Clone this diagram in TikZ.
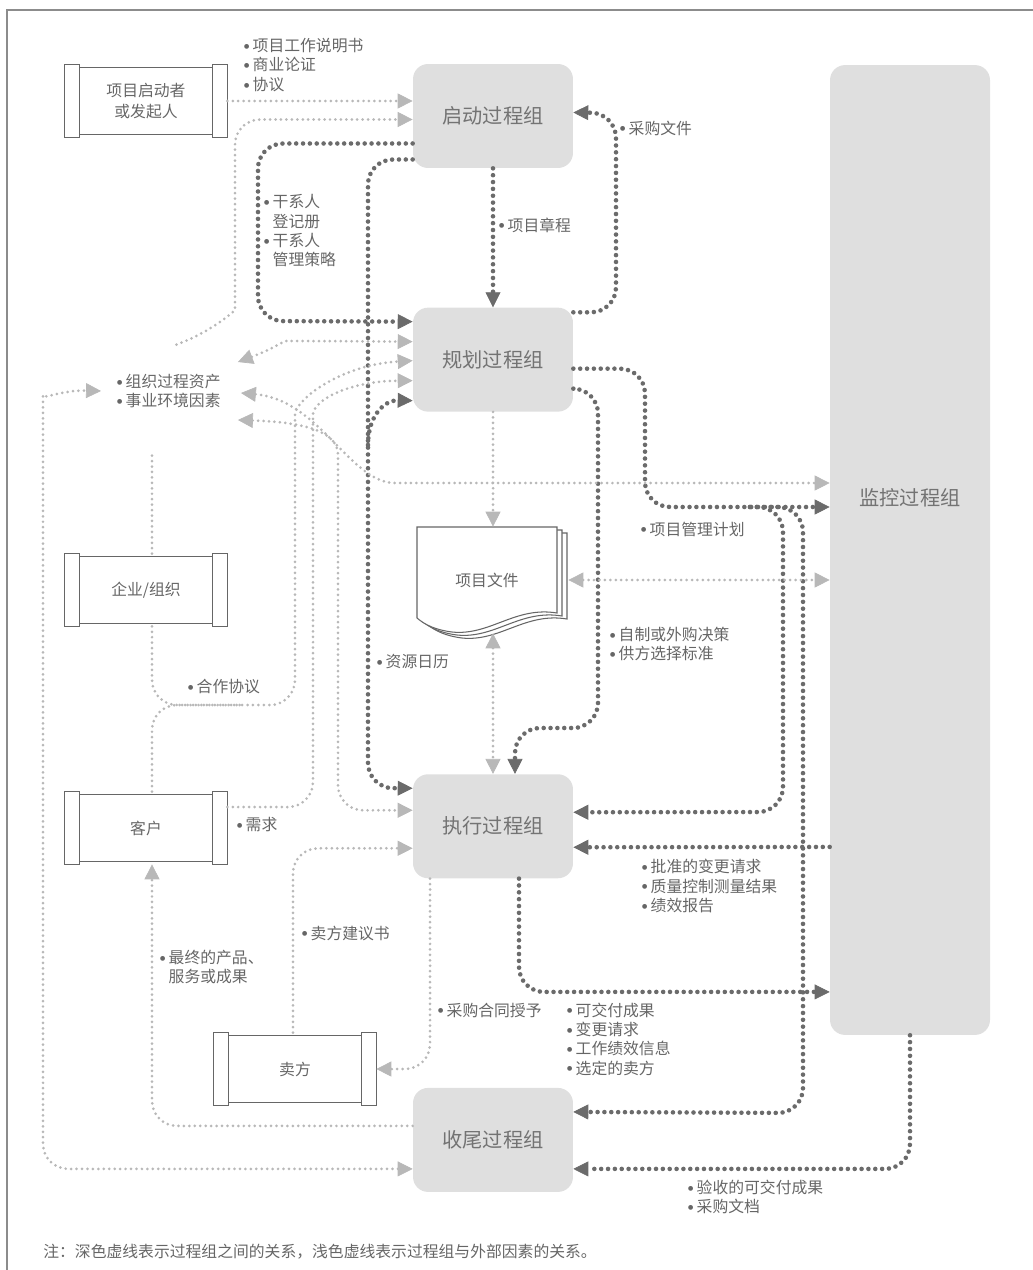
\documentclass[tikz,border=0pt]{standalone}
\usepackage{fontspec}
\setmainfont{Noto Sans CJK SC}
\usepackage{tikz}
\usetikzlibrary{arrows.meta}
\usetikzlibrary{positioning}

\definecolor{groupfill}{gray}{0.875}
\definecolor{grouptext}{gray}{0.45}
\definecolor{labeltext}{gray}{0.40}
\definecolor{darkdots}{gray}{0.42}
\definecolor{litedots}{gray}{0.72}
\definecolor{rollline}{gray}{0.40}

\newcommand{\bul}{\raisebox{0.14em}{$\scriptstyle\bullet$}\,}
\newcommand{\nob}{\hphantom{$\scriptstyle\bullet$\,}}

\begin{document}
\begin{tikzpicture}[x=0.02cm,y=-0.02cm,
                    >={Triangle[length=8.5pt,width=8.5pt,line width=0.4pt]}]
 \tikzstyle{group}=[rectangle, rounded corners=0.3cm, fill=groupfill, text=grouptext,
                    minimum width=3.2cm, minimum height=2.08cm, font=\fontsize{11.5}{14}\selectfont]
 \tikzstyle{party}=[rectangle, minimum width=3.24cm, minimum height=1.44cm, inner sep=0pt,
                    text=labeltext, align=center, font=\fontsize{9}{12}\selectfont]
 \tikzstyle{roll}=[draw=rollline, line width=0.8pt]
 \tikzstyle{memo}=[inner sep=0pt, text=labeltext, align=left, anchor=west, font=\fontsize{9}{11}\selectfont]
 \tikzstyle{dark}=[draw=darkdots, line width=2.6pt, line cap=round, dash pattern=on 0pt off 3.9pt,
                   rounded corners=0.5cm]
 \tikzstyle{lite}=[draw=litedots, line width=1.7pt, line cap=round, dash pattern=on 0pt off 3.1pt,
                   rounded corners=0.5cm]
 \useasboundingbox (0,0) rectangle (1033,1270);
 \draw[black!45, line width=0.8pt] (7,1270) -- (7,10) -- (1033,10);

 % process groups
 \node[group] (init) at (493,116) {启动过程组};
 \node[group] (plan) [below=2.78cm of init] {规划过程组};
 \node[group] (exec) [below=7.24cm of plan] {执行过程组};
 \node[group] (close) [below=4.18cm of exec] {收尾过程组};
 \node[group, minimum height=19.4cm,
       label={[text=grouptext, font=\fontsize{11.5}{14}\selectfont, yshift=1.04cm]center:监控过程组}]
       (monitor) at (910,550) {};

 % outside parties
 \node[party] (sponsor) at (146,101) {项目启动者\\或发起人};
 \node[party] (firm) at (146,590) {企业/组织};
 \node[party] (client) at (146,828) {客户};
 \node[party] (seller) at (295,1069) {卖方};
 \foreach \n in {sponsor,firm,client,seller}{
   \draw[roll] ([shift={(.3cm,-.06cm)}]\n.north west) rectangle ([shift={(-.3cm,.06cm)}]\n.south east);
   \draw[roll] (\n.north west) rectangle ([xshift=.3cm]\n.south west);
   \draw[roll] ([xshift=-.3cm]\n.north east) rectangle (\n.south east);
 }

 % project documents
 \foreach \s in {10,5,0}
   \draw[roll, line width=0.6pt, fill=white, shift={(\s,0.6*\s)}]
     (417,527) -- (557,527) -- (557,613) .. controls (515,606) and (490,636) .. (452,632)
     .. controls (436,630) and (425,625) .. (417,618) -- cycle;
 \node[minimum width=2.8cm, minimum height=2.12cm, text=labeltext,
       font=\fontsize{9}{11}\selectfont] (docs) at (487,580) {项目文件};

 % labels
 \node[memo] (initin) at (243,65) {\bul 项目工作说明书\\\bul 商业论证\\\bul 协议};
 \node[memo] (purchase) at (619,128) {\bul 采购文件};
 \node[memo] (stake) at (263,231) {\bul 干系人\\\nob 登记册\\\bul 干系人\\\nob 管理策略};
 \node[memo] (charter) at (498,225) {\bul 项目章程};
 \node[memo] (assets) at (116,391) {\bul 组织过程资产\\\bul 事业环境因素};
 \node[memo] (pmplan) at (640,529) {\bul 项目管理计划};
 \node[memo] (calendar) at (376,662) {\bul 资源日历};
 \node[memo] (makebuy) at (609,644) {\bul 自制或外购决策\\\bul 供方选择标准};
 \node[memo] (partner) at (187,687) {\bul 合作协议};
 \node[memo] (needs) at (236,825) {\bul 需求};
 \node[memo] (approved) at (641,886) {\bul 批准的变更请求\\\bul 质量控制测量结果\\\bul 绩效报告};
 \node[memo] (proposal) at (301,933) {\bul 卖方建议书};
 \node[memo] (product) at (159,967) {\bul 最终的产品、\\\nob 服务或成果};
 \node[memo] (award) at (437,1010) {\bul 采购合同授予};
 \node[memo] (deliver) at (566,1039) {\bul 可交付成果\\\bul 变更请求\\\bul 工作绩效信息\\\bul 选定的卖方};
 \node[memo] (accepted) at (687,1197) {\bul 验收的可交付成果\\\bul 采购文档};
 \node[memo] (legend) at (43,1252) {注：深色虚线表示过程组之间的关系，浅色虚线表示过程组与外部因素的关系。};

 \coordinate (fork) at (368,445);
 \coordinate (split) at (750,507);
 \coordinate (orgtop) at (152,455);

 % between process groups
 \draw[dark,->] (init.south) -- (plan.north);
 \draw[dark,->] ([yshift=-.1cm]plan.north east) -| (616,113) -- ([yshift=.07cm]init.east);
 \draw[dark,->] ([yshift=-.55cm]init.west) -| (258,321) -- ([yshift=.76cm]plan.west);
 \draw[dark,->] ([yshift=-.87cm]init.west) -| (368,788) -- ([yshift=.76cm]exec.west);
 \draw[dark,->] (fork) .. controls (368,415) and (385,400) .. ([yshift=-.82cm]plan.west);
 \draw[dark,->] ([yshift=-.18cm]plan.east) -| (645,507) -- ([yshift=.86cm]monitor.west);
 \draw[dark,->] ([yshift=-.58cm]plan.east) -| (598,728) -| ([xshift=.44cm]exec.north);
 \draw[dark,->] (split) -| (783,812) -- ([yshift=.28cm]exec.east);
 \draw[dark,->] (split) -| (803,1113) -- ([yshift=.56cm]close.east);
 \draw[dark,->] ([yshift=-5.94cm]monitor.west) -- ([yshift=-.42cm]exec.east);
 \draw[dark,->] ([xshift=.52cm]exec.south) |- ([yshift=-8.84cm]monitor.west);
 \draw[dark,->] (monitor.south) |- ([yshift=-.58cm]close.east);

 % with outside factors
 \draw[lite,->] (sponsor.east) -- (sponsor.east -| init.west);
 \draw[lite,->] ([shift={(.16cm,.58cm)}]assets.north) .. controls (215,330) and (235,310) .. (235,285)
   |- ([yshift=-.07cm]init.west);
 \draw[lite,<->] ([shift={(.34cm,.58cm)}]assets.east) .. controls (270,350) and (285,341) .. (310,341)
   -- ([yshift=.36cm]plan.west);
 \draw[lite,<->] ([shift={(.4cm,-.04cm)}]assets.east) .. controls (320,400) and (350,483) .. (420,483)
   -- ([yshift=1.34cm]monitor.west);
 \draw[lite,<->] ([shift={(.34cm,-.58cm)}]assets.east) .. controls (300,422) and (338,430) .. (338,480)
   |- ([yshift=.32cm]exec.west);
 \draw[lite,->] ([xshift=.12cm]firm.south) |- (295,705) -- (295,440) .. controls (295,400) and (340,365) ..
   ([yshift=-.02cm]plan.west);
 \draw[lite] ([xshift=.12cm]client.north) |- (240,705);
 \draw[lite] ([xshift=.12cm]firm.north) -- (orgtop);
 \draw[lite,->] ([yshift=.42cm]client.east) -| (313,440) .. controls (313,400) and (350,381) ..
   ([yshift=-.42cm]plan.west);
 \draw[lite,->] ([yshift=.28cm]close.west) -| ([xshift=.12cm]client.south);
 \draw[lite,<->] ([yshift=-.58cm]close.west) -| (43,420) .. controls (43,400) and (60,390) ..
   ([xshift=-.3cm]assets.west);
 \draw[lite,->] ([xshift=-.04cm]seller.north) |- ([yshift=-.44cm]exec.west);
 \draw[lite,->] ([xshift=-1.26cm]exec.south) |- (seller.east);
 \draw[lite,->] (plan.south) -- (plan.south |- docs.north);
 \draw[lite,<->] (exec.north |- docs.south) -- (exec.north);
 \draw[lite,<->] ([xshift=.22cm]docs.east) -- (monitor.west |- docs.east);
\end{tikzpicture}
\end{document}
